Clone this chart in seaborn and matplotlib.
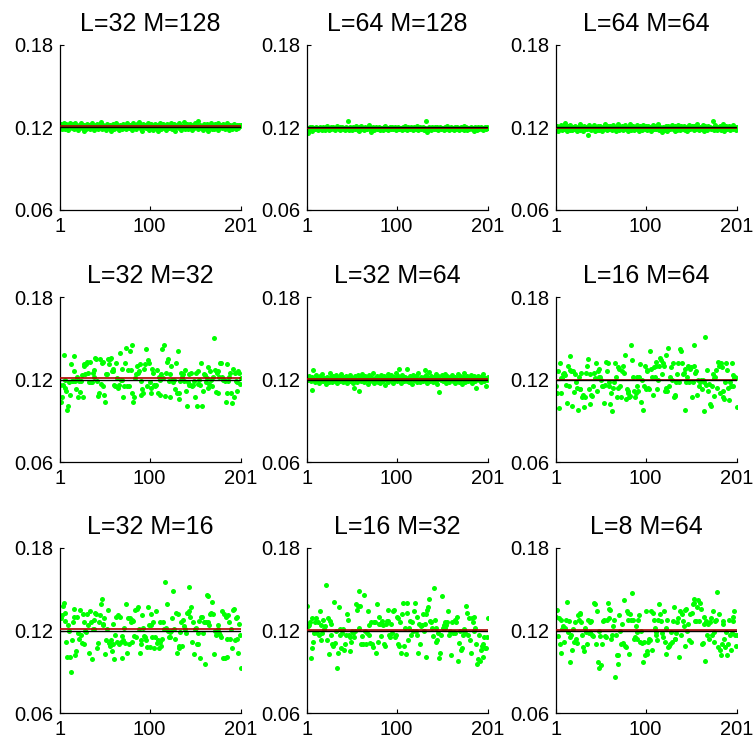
import numpy as np
import pandas as pd
import matplotlib
matplotlib.use("Agg")
import matplotlib.pyplot as plt
import seaborn as sns

# Panel titles in reading order (row by row)
titles = ["L=32 M=128", "L=64 M=128", "L=64 M=64",
          "L=32 M=32", "L=32 M=64", "L=16 M=64",
          "L=32 M=16", "L=16 M=32", "L=8 M=64"]

reference_level = 0.12
y_ticks = [0.06, 0.12, 0.18]
y_tick_labels = ["0.06", "0.12", "0.18"]
x_ticks = [1, 100, 201]
x_tick_labels = ["1", "100", "201"]

est_L32_M128 = [
    .1198, .1222, .1187, .1214, .1231, .1203, .1192, .1226, .1209, .1181,
    .1217, .1236, .1201, .1195, .1224, .1188, .1210, .1229, .1197, .1213,
    .1184, .1219, .1206, .1232, .1193, .1211, .1175, .1220, .1204, .1190,
    .1227, .1199, .1215, .1186, .1208, .1230, .1196, .1218, .1181, .1212,
    .1203, .1225, .1191, .1216, .1200, .1238, .1189, .1207, .1221, .1194,
    .1213, .1182, .1228, .1205, .1197, .1219, .1171, .1210, .1224, .1200,
    .1188, .1216, .1233, .1195, .1209, .1179, .1221, .1202, .1214, .1190,
    .1226, .1198, .1211, .1187, .1230, .1204, .1193, .1218, .1208, .1183,
    .1220, .1235, .1196, .1212, .1189, .1223, .1201, .1241, .1206, .1192,
    .1215, .1178, .1227, .1203, .1217, .1194, .1210, .1232, .1185, .1209,
    .1199, .1224, .1212, .1181, .1205, .1228, .1196, .1219, .1173, .1211,
    .1236, .1202, .1190, .1215, .1226, .1197, .1207, .1184, .1222, .1213,
    .1193, .1218, .1204, .1231, .1188, .1210, .1225, .1176, .1201, .1216,
    .1209, .1229, .1195, .1220, .1182, .1214, .1203, .1237, .1191, .1206,
    .1223, .1187, .1212, .1198, .1227, .1205, .1180, .1217, .1194, .1230,
    .1201, .1216, .1246, .1189, .1208, .1221, .1197, .1212, .1185, .1224,
    .1210, .1193, .1228, .1204, .1177, .1219, .1200, .1233, .1191, .1214,
    .1186, .1222, .1207, .1198, .1229, .1183, .1215, .1203, .1220, .1195,
    .1225, .1201, .1190, .1213, .1234, .1196, .1209, .1179, .1218, .1206,
    .1192, .1217, .1226, .1203, .1188, .1221, .1211, .1197, .1215, .1208,
    .1219]

est_L64_M128 = [
    .1196, .1158, .1183, .1201, .1192, .1178, .1205, .1189, .1198, .1186,
    .1203, .1194, .1181, .1199, .1207, .1188, .1196, .1183, .1202, .1191,
    .1185, .1200, .1209, .1193, .1180, .1197, .1204, .1187, .1195, .1206,
    .1190, .1182, .1199, .1208, .1194, .1186, .1201, .1179, .1197, .1205,
    .1188, .1196, .1183, .1202, .1191, .1245, .1184, .1199, .1206, .1192,
    .1181, .1203, .1195, .1187, .1210, .1193, .1185, .1200, .1178, .1197,
    .1212, .1189, .1198, .1184, .1204, .1192, .1186, .1201, .1195, .1218,
    .1188, .1165, .1196, .1203, .1182, .1194, .1207, .1187, .1199, .1191,
    .1204, .1185, .1197, .1190, .1183, .1201, .1209, .1186, .1194, .1198,
    .1180, .1196, .1205, .1189, .1200, .1187, .1193, .1206, .1182, .1197,
    .1191, .1203, .1186, .1199, .1195, .1184, .1202, .1190, .1208, .1188,
    .1197, .1181, .1206, .1193, .1187, .1200, .1194, .1185, .1203, .1196,
    .1189, .1210, .1192, .1183, .1198, .1205, .1188, .1196, .1201, .1184,
    .1199, .1192, .1246, .1165, .1187, .1204, .1195, .1181, .1200, .1193,
    .1186, .1202, .1197, .1189, .1207, .1183, .1196, .1204, .1190, .1199,
    .1193, .1185, .1201, .1196, .1188, .1209, .1194, .1182, .1198, .1205,
    .1190, .1199, .1184, .1203, .1195, .1187, .1206, .1192, .1180, .1197,
    .1202, .1189, .1196, .1208, .1185, .1194, .1200, .1183, .1199, .1191,
    .1195, .1204, .1186, .1198, .1176, .1190, .1201, .1193, .1185, .1207,
    .1188, .1197, .1203, .1192, .1184, .1199, .1195, .1206, .1189, .1200,
    .1194]

est_L64_M64 = [
    .1192, .1210, .1178, .1203, .1186, .1221, .1197, .1181, .1214, .1189,
    .1236, .1200, .1175, .1208, .1193, .1184, .1217, .1196, .1180, .1205,
    .1188, .1213, .1199, .1172, .1207, .1191, .1224, .1183, .1201, .1195,
    .1178, .1210, .1186, .1203, .1192, .1146, .1215, .1187, .1198, .1181,
    .1206, .1190, .1219, .1177, .1200, .1185, .1211, .1194, .1182, .1208,
    .1197, .1175, .1204, .1189, .1226, .1193, .1180, .1209, .1199, .1186,
    .1213, .1195, .1182, .1218, .1190, .1201, .1176, .1207, .1194, .1222,
    .1184, .1203, .1192, .1210, .1179, .1198, .1215, .1188, .1200, .1174,
    .1207, .1191, .1223, .1185, .1196, .1212, .1181, .1204, .1193, .1216,
    .1189, .1201, .1177, .1208, .1195, .1183, .1220, .1197, .1186, .1210,
    .1199, .1181, .1214, .1192, .1205, .1173, .1202, .1217, .1188, .1196,
    .1211, .1186, .1199, .1225, .1180, .1207, .1193, .1165, .1203, .1190,
    .1183, .1209, .1196, .1178, .1214, .1198, .1187, .1205, .1221, .1192,
    .1201, .1177, .1208, .1194, .1185, .1216, .1199, .1182, .1210, .1197,
    .1190, .1213, .1184, .1203, .1196, .1172, .1206, .1219, .1188, .1200,
    .1208, .1193, .1181, .1211, .1198, .1187, .1224, .1195, .1179, .1204,
    .1186, .1202, .1215, .1191, .1176, .1209, .1197, .1183, .1212, .1194,
    .1205, .1188, .1199, .1248, .1184, .1200, .1218, .1192, .1180, .1207,
    .1196, .1211, .1185, .1203, .1190, .1222, .1178, .1201, .1209, .1187,
    .1199, .1214, .1182, .1195, .1206, .1189, .1217, .1193, .1200, .1184,
    .1202]

est_L32_M32 = [
    .116, .104, .107, .116, .138, .120, .114, .112, .098, .101,
    .118, .109, .131, .119, .119, .137, .126, .119, .113, .122,
    .107, .119, .111, .119, .123, .107, .130, .131, .124, .131,
    .133, .125, .118, .133, .118, .118, .125, .127, .122, .136,
    .135, .119, .108, .110, .135, .117, .132, .133, .115, .109,
    .104, .124, .124, .135, .131, .135, .136, .126, .128, .126,
    .116, .115, .132, .121, .114, .116, .139, .120, .120, .128,
    .107, .115, .132, .143, .115, .127, .115, .141, .127, .145,
    .110, .104, .107, .121, .124, .130, .125, .126, .131, .119,
    .109, .113, .110, .128, .131, .142, .115, .134, .132, .118,
    .114, .110, .128, .125, .116, .115, .116, .127, .110, .122,
    .120, .109, .124, .142, .121, .145, .108, .125, .133, .135,
    .119, .107, .124, .130, .120, .118, .120, .113, .132, .110,
    .141, .110, .106, .119, .125, .122, .124, .119, .127, .112,
    .101, .118, .116, .124, .116, .125, .115, .116, .119, .107,
    .125, .101, .117, .126, .120, .116, .132, .101, .112, .124,
    .123, .118, .121, .114, .129, .117, .126, .120, .115, .122,
    .150, .127, .111, .125, .126, .110, .122, .132, .132, .122,
    .120, .120, .119, .104, .131, .110, .119, .122, .125, .110,
    .103, .128, .107, .125, .119, .118, .112, .126, .125, .117,
    .121]

est_L32_M64 = [
    .1215, .1198, .1226, .1207, .1189, .1127, .1218, .1270, .1201, .1183,
    .1232, .1195, .1210, .1178, .1224, .1204, .1191, .1239, .1187, .1213,
    .1199, .1168, .1221, .1206, .1185, .1245, .1197, .1216, .1180, .1228,
    .1203, .1190, .1234, .1175, .1211, .1196, .1222, .1186, .1243, .1200,
    .1181, .1217, .1193, .1229, .1172, .1205, .1214, .1188, .1236, .1198,
    .1209, .1176, .1140, .1222, .1195, .1183, .1231, .1202, .1115, .1219,
    .1191, .1238, .1206, .1180, .1225, .1197, .1212, .1169, .1233, .1204,
    .1186, .1220, .1199, .1245, .1178, .1210, .1193, .1227, .1184, .1215,
    .1201, .1173, .1236, .1208, .1189, .1224, .1162, .1213, .1196, .1241,
    .1182, .1219, .1205, .1230, .1192, .1177, .1216, .1200, .1248, .1187,
    .1223, .1195, .1280, .1209, .1174, .1232, .1198, .1186, .1219, .1205,
    .1190, .1278, .1214, .1181, .1227, .1201, .1166, .1235, .1193, .1211,
    .1228, .1184, .1206, .1244, .1196, .1179, .1221, .1203, .1187, .1216,
    .1270, .1197, .1232, .1175, .1210, .1252, .1189, .1225, .1200, .1181,
    .1218, .1204, .1237, .1191, .1168, .1223, .1108, .1207, .1195, .1230,
    .1186, .1213, .1240, .1199, .1172, .1226, .1208, .1183, .1217, .1196,
    .1234, .1190, .1205, .1221, .1178, .1211, .1198, .1243, .1185, .1227,
    .1202, .1169, .1218, .1194, .1247, .1181, .1209, .1225, .1191, .1214,
    .1200, .1236, .1176, .1212, .1195, .1229, .1187, .1135, .1208, .1222,
    .1193, .1215, .1182, .1226, .1204, .1238, .1190, .1211, .1156, .1200,
    .1219]

est_L16_M64 = [
    .115, .110, .126, .099, .132, .121, .110, .121, .124, .125,
    .123, .116, .103, .130, .115, .127, .137, .126, .101,
    .126, .111, .124, .118, .114, .098, .122, .113, .113,
    .125, .107, .109, .100, .107, .125, .130, .135, .113,
    .124, .102, .109, .108, .115, .125, .121, .132, .112,
    .126, .122, .128, .122, .120, .115, .115, .103, .116,
    .133, .126, .132, .118, .115, .102, .110, .097, .114,
    .118, .132, .122, .107, .129, .114, .128, .115, .107,
    .126, .130, .125, .138, .106, .113, .112, .110, .107,
    .108, .145, .134, .122, .112, .107, .110, .122, .115,
    .112, .122, .131, .104, .120, .098, .115, .130, .113,
    .127, .126, .114, .113, .141, .128, .122, .109, .129,
    .122, .133, .130, .113, .120, .130, .136, .134, .124,
    .132, .130, .112, .138, .114, .112, .143, .115, .122,
    .129, .120, .132, .107, .109, .108, .118, .124, .132,
    .118, .142, .141, .132, .124, .125, .098, .128, .118, .122,
    .130, .118, .128, .129, .107, .118, .145, .130, .125, .126,
    .109, .120, .115, .118, .120, .113, .120, .097, .118, .151,
    .116, .127, .112, .117, .102, .101, .115, .124, .121, .108,
    .122, .127, .114, .133, .130, .110, .132, .129, .107, .112,
    .106, .118, .132, .127, .114, .105, .118, .115, .132, .115,
    .123, .121, .122, .121, .100]

est_L32_M16 = [
    .130, .129, .131, .138, .140, .127, .133, .112, .101, .124,
    .120, .101, .090, .113, .126, .130, .136, .102, .105,
    .130, .118, .114, .135, .117, .111, .132, .110, .126,
    .120, .119, .132, .124, .104, .134, .126, .099, .121,
    .121, .128, .133, .132, .107, .111, .126, .131, .139,
    .143, .124, .125, .129, .103, .113, .121, .135, .111,
    .109, .113, .105, .110, .125, .099, .117, .130, .112,
    .131, .110, .130, .112, .116, .100, .113, .122, .111, .139,
    .104, .129, .110, .129, .126, .112, .128, .127, .116,
    .135, .115, .136, .137, .121, .104, .110, .113, .131, .122,
    .116, .115, .113, .108, .137, .124, .108, .124, .132,
    .115, .126, .107, .115, .134, .111, .113, .107, .112, .126,
    .109, .114, .126, .121, .155, .122, .139, .120, .115, .119,
    .115, .120, .129, .149, .121, .114, .133, .104, .132, .107,
    .109, .119, .126, .109, .128, .123, .121, .118, .133,
    .133, .134, .152, .130, .137, .112, .126, .103, .121, .122,
    .110, .118, .110, .127, .100, .130, .130, .118, .126,
    .096, .126, .146, .126, .145, .124, .132, .133, .141, .132,
    .103, .120, .117, .119, .121, .124, .118, .117, .115,
    .134, .100, .132, .100, .130, .101, .114, .131, .126, .114,
    .121, .107, .135, .136, .113, .129, .114, .130, .104,
    .125, .117, .093]

est_L16_M32 = [
    .138, .123, .124, .126, .100, .107, .129, .112, .118, .126,
    .129, .118, .126, .117, .134, .124, .113, .118, .128,
    .121, .123, .153, .113, .129, .103, .127, .125, .117,
    .110, .109, .141, .111, .120, .093, .104, .137, .117,
    .121, .107, .118, .121, .106, .110, .117, .132, .128,
    .117, .115, .105, .112, .120, .118, .115, .120, .139,
    .135, .138, .122, .149, .138, .110, .116, .110, .146, .120,
    .110, .118, .134, .124, .117, .111, .126, .110, .108,
    .126, .126, .104, .139, .112, .125, .130, .125, .116,
    .127, .124, .110, .109, .125, .127, .135, .127, .117,
    .115, .125, .118, .134, .135, .115, .117, .130, .129,
    .110, .109, .126, .104, .132, .140, .109, .122, .103,
    .133, .140, .113, .122, .127, .117, .126, .120, .134,
    .140, .120, .130, .117, .104, .125, .110, .123, .124,
    .132, .120, .125, .132, .101, .135, .137, .143, .127, .126,
    .122, .116, .151, .128, .122, .112, .113, .118, .100,
    .104, .117, .145, .122, .124, .122, .126, .124, .126,
    .134, .117, .120, .102, .126, .118, .119, .128, .118,
    .126, .130, .098, .111, .120, .106, .107, .117, .121,
    .120, .118, .138, .133, .117, .129, .113, .104, .129,
    .126, .130, .120, .122, .110, .096, .099, .117, .098, .106,
    .109, .110, .101, .115, .107, .107, .115, .129]

est_L8_M64 = [
    .130, .135, .116, .129, .110, .128, .104, .121, .123, .112,
    .122, .128, .141, .119, .127, .115, .097, .117, .106,
    .121, .112, .126, .114, .111, .131, .128, .132, .133,
    .126, .117, .108, .105, .122, .119, .110, .128, .118,
    .119, .126, .127, .117, .116, .140, .139, .110, .134,
    .097, .120, .093, .116, .095, .110, .127, .128, .116,
    .115, .128, .140, .129, .136, .135, .114, .117, .123,
    .128, .086, .117, .102, .096, .102, .131, .120, .110, .125,
    .111, .142, .109, .108, .134, .128, .133, .103, .132,
    .128, .147, .128, .114, .115, .123, .114, .119, .128, .131,
    .112, .120, .111, .097, .112, .102, .134, .105, .103,
    .112, .114, .113, .134, .106, .133, .128, .122, .117,
    .119, .113, .128, .139, .132, .127, .118, .115, .134,
    .112, .103, .122, .128, .108, .109, .110, .119, .112,
    .127, .137, .114, .114, .118, .126, .129, .101, .134,
    .117, .132, .127, .123, .135, .109, .136, .120, .125,
    .113, .132, .112, .133, .139, .140, .143, .127, .127,
    .137, .142, .127, .140, .136, .110, .111, .130, .125,
    .098, .127, .117, .125, .114, .126, .129, .117, .134,
    .112, .119, .127, .128, .148, .108, .132, .106, .102, .110,
    .125, .127, .114, .108, .119, .102, .110, .128, .117,
    .106, .118, .130, .127, .134, .117, .109, .117]

series = [est_L32_M128, est_L64_M128, est_L64_M64,
          est_L32_M32, est_L32_M64, est_L16_M64,
          est_L32_M16, est_L16_M32, est_L8_M64]

sns.set_style("ticks")
plt.rcParams["font.family"] = ["Liberation Sans", "DejaVu Sans"]
plt.rcParams["text.color"] = "black"
plt.rcParams["xtick.color"] = "black"
plt.rcParams["ytick.color"] = "black"
plt.rcParams["axes.edgecolor"] = "black"

fig = plt.figure(figsize=(7.53, 7.47), dpi=100)

col_left = [0.0797, 0.4077, 0.7384]
row_bottom = [0.7189, 0.3815, 0.0455]
ax_w, ax_h = 0.2404, 0.2209

for k, (title, vals) in enumerate(zip(titles, series)):
    r, c = divmod(k, 3)
    ax = fig.add_axes([col_left[c], row_bottom[r], ax_w, ax_h])
    df = pd.DataFrame({"run": np.arange(1, len(vals) + 1), "estimate": vals})
    sns.scatterplot(data=df, x="run", y="estimate", ax=ax, color="#00ff00",
                    s=13, linewidth=0, zorder=2)
    # sample mean (red) underneath the nominal level (black)
    ax.axhline(float(np.mean(vals)), color="#b00000", lw=1.2, zorder=3)
    ax.axhline(reference_level, color="black", lw=1.0, zorder=4)
    ax.set_xlim(1, 201)
    ax.set_ylim(0.06, 0.18)
    ax.set_xticks(x_ticks)
    ax.set_xticklabels(x_tick_labels)
    ax.set_yticks(y_ticks)
    ax.set_yticklabels(y_tick_labels)
    ax.tick_params(direction="in", length=3, width=0.8, labelsize=14.5,
                   pad=5, colors="black")
    ax.set_xlabel("")
    ax.set_ylabel("")
    ax.set_title(title, fontsize=18, pad=10, color="black")
    for side in ("top", "right"):
        ax.spines[side].set_visible(False)
    for side in ("left", "bottom"):
        ax.spines[side].set_linewidth(0.9)
        ax.spines[side].set_color("black")

fig.savefig("out.png", dpi=100)
